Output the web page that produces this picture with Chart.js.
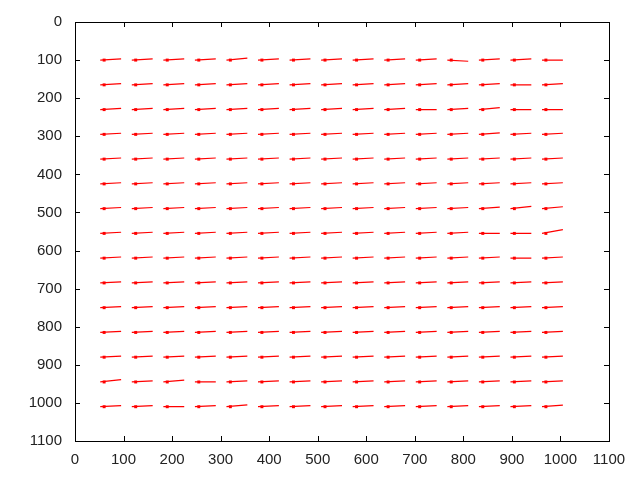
<!DOCTYPE html>
<html>
<head>
<meta charset="utf-8">
<script src="https://cdn.jsdelivr.net/npm/chart.js@4.4.1/dist/chart.umd.min.js"></script>
<style>
  html, body { margin: 0; padding: 0; background: #fff; }
  #wrap { width: 640px; height: 480px; }
</style>
</head>
<body>
<div id="wrap"><canvas id="flowChart" width="640" height="480"></canvas></div>
<script>
// grid of sample points (data units)
const colX = [60, 125, 190, 255, 320, 385, 450, 515, 580, 645, 710, 775, 840, 905, 970];
const rowY = [100, 165, 230, 295, 360, 425, 490, 555, 620, 685, 750, 815, 880, 945, 1010];
const xTicks = [0, 100, 200, 300, 400, 500, 600, 700, 800, 900, 1000, 1100];
const yTicks = [0, 100, 200, 300, 400, 500, 600, 700, 800, 900, 1000, 1100];

// vector start offset and horizontal length
const tailOffset = -8;
const vecDx = [
  43, 43, 43, 43, 43, 43, 43, 43, 43, 43, 43, 43, 43, 43, 43
];
// vertical displacement of each vector, one array per row
const vecDy = [
  [-3, -3, -3, -3, -5, -3, -3, -3, -3, -3, -3, 3, -3, -3, 0],
  [-3, -3, -3, -3, -3, -3, -3, -3, -3, -3, -3, -3, -3, 0, -3],
  [-3, -3, -3, -3, -3, -3, -3, -3, -3, -3, 0, -3, -5, 0, 0],
  [-3, -3, -3, -3, -3, -3, -3, -3, -3, -3, -3, -3, -4, -3, -3],
  [-3, -3, -3, -3, -3, -3, -3, -3, -3, -3, -3, -3, -3, -3, -3],
  [-3, -3, -3, -3, -3, -3, -3, -3, -3, -3, -3, -3, -3, -3, -3],
  [-3, -3, -3, -3, -3, -3, -3, -3, -3, -3, -3, -3, -4, -6, -5],
  [-3, -3, -3, -3, -3, -3, -3, -3, -3, -3, -3, -3, 0, 0, -10],
  [-3, -3, -3, -3, -3, -3, -3, -3, -3, -3, -3, -3, -3, 0, -3],
  [-3, -3, -3, -3, -3, -3, -3, -3, -3, -3, -3, -3, -3, -3, -3],
  [-3, -3, -3, -3, -3, -3, -3, -3, -3, -3, -3, -3, -3, -3, -3],
  [-3, -3, -3, -3, -3, -3, -3, -3, -3, -3, -3, -3, -3, -3, -3],
  [-3, -3, -3, -3, -3, -3, -3, -3, -3, -3, -3, -3, -3, -3, -3],
  [-6, -3, -5, 0, -3, -3, -3, -3, -3, -3, -3, -3, -3, -3, -3],
  [-3, -3, 0, -3, -5, -3, -3, -3, -3, -3, -3, -3, -3, -3, -4]
];

const segs = [];
const pts = [];
rowY.forEach((y, r) => {
  colX.forEach((x, c) => {
    const x0 = x + tailOffset;
    segs.push({ x: x0, y: y });
    segs.push({ x: x0 + vecDx[c], y: y + vecDy[r][c] });
    segs.push({ x: x0 + vecDx[c], y: null });
    pts.push({ x: x, y: y });
  });
});

// frame + inward ticks on all four sides, gnuplot style
const framePlugin = {
  id: "frame",
  afterDatasetsDraw(chart) {
    const { ctx, chartArea: a, scales } = chart;
    ctx.save();
    ctx.strokeStyle = "#000";
    ctx.lineWidth = 1;
    ctx.beginPath();
    xTicks.forEach(v => {
      const px = Math.round(scales.x.getPixelForValue(v)) + 0.5;
      ctx.moveTo(px, a.bottom); ctx.lineTo(px, a.bottom - 5);
      ctx.moveTo(px, a.top); ctx.lineTo(px, a.top + 5);
    });
    yTicks.forEach(v => {
      const py = Math.round(scales.y.getPixelForValue(v)) + 0.5;
      ctx.moveTo(a.left, py); ctx.lineTo(a.left + 5, py);
      ctx.moveTo(a.right, py); ctx.lineTo(a.right - 5, py);
    });
    ctx.stroke();
    ctx.strokeRect(Math.round(a.left) + 0.5, Math.round(a.top) + 0.5,
      Math.round(a.right - a.left), Math.round(a.bottom - a.top));
    ctx.restore();
  }
};

const tickFont = { family: "Liberation Sans, Arial, sans-serif", size: 15 };

new Chart(document.getElementById("flowChart"), {
  type: "scatter",
  data: {
    datasets: [
      { data: segs, showLine: true, spanGaps: false, borderColor: "#ff0000", borderWidth: 1.2, pointRadius: 0, tension: 0 },
      { data: pts, pointStyle: "rect", pointRadius: 2.1, borderWidth: 0, backgroundColor: "#ff0000" }
    ]
  },
  options: {
    responsive: false,
    animation: false,
    layout: { padding: { top: 20, right: 31, left: 0, bottom: 0 } },
    plugins: { legend: { display: false }, tooltip: { enabled: false } },
    scales: {
      x: {
        type: "linear", min: 0, max: 1100,
        afterFit: s => { s.height = 39; },
        afterBuildTicks: s => { s.ticks = xTicks.map(v => ({ value: v })); },
        grid: { display: false, drawTicks: false },
        border: { display: false },
        ticks: { padding: 10, color: "#222", font: tickFont, maxRotation: 0, autoSkip: false, callback: v => String(v) }
      },
      y: {
        type: "linear", min: 0, max: 1100, reverse: true,
        afterFit: s => { s.width = 75; },
        afterBuildTicks: s => { s.ticks = yTicks.map(v => ({ value: v })); },
        grid: { display: false, drawTicks: false },
        border: { display: false },
        ticks: { padding: 13, color: "#222", font: tickFont, autoSkip: false, callback: v => String(v) }
      }
    }
  },
  plugins: [framePlugin]
});
</script>
</body>
</html>
